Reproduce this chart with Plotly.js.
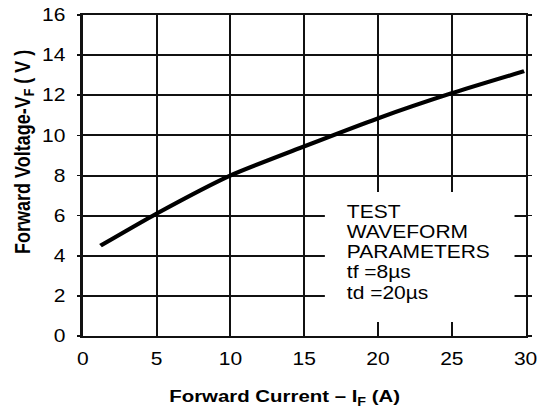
<!DOCTYPE html>
<html>
<head>
<meta charset="utf-8">
<script src="https://cdn.plot.ly/plotly-3.0.1.min.js"></script>
<style>
  html, body { margin: 0; padding: 0; overflow: hidden; background: #fff; }
  #chart { width: 455px; height: 407px; transform: scaleX(1.2); transform-origin: 0 0; }
</style>
</head>
<body>
<div id="chart"></div>
<script>
// Data
const forwardCurrent = [1.2, 5, 10, 15, 20, 25, 29.9];      // A
const forwardVoltage = [4.5, 6.1, 8.0, 9.45, 10.85, 12.1, 13.2]; // V
const xTicks = [0, 5, 10, 15, 20, 25, 30];
const yTicks = [0, 2, 4, 6, 8, 10, 12, 14, 16];
const noteLines = ["TEST", "WAVEFORM", "PARAMETERS", "tf =8µs", "td =20µs"];
const xTitle = "Forward Current – I<sub>F</sub> (A)";
const yTitle = "Forward Voltage-V<sub>F</sub> ( V )";

const font = "Liberation Sans, Arial, sans-serif";

const trace = {
  x: forwardCurrent,
  y: forwardVoltage,
  type: "scatter",
  mode: "lines",
  line: { color: "#000", width: 4, shape: "spline", smoothing: 0.6 },
  hoverinfo: "skip"
};

const annotations = [
  {
    text: yTitle, xref: "paper", yref: "paper", x: -0.133, y: 0.573,
    xanchor: "center", yanchor: "middle", textangle: -90, showarrow: false,
    font: { family: font, size: 18, color: "#000", weight: "bold" }
  },
  {
    text: xTitle, xref: "paper", yref: "paper", x: 0.455, y: -0.193,
    xanchor: "center", yanchor: "middle", showarrow: false,
    font: { family: font, size: 17, color: "#000", weight: "bold" }
  }
];
const noteY = [6.18, 5.18, 4.17, 3.17, 2.15];
noteLines.forEach((t, i) => {
  annotations.push({
    text: t, xref: "x", yref: "y", x: 17.7, y: noteY[i],
    xanchor: "left", yanchor: "middle", showarrow: false,
    font: { family: font, size: 17.5, color: "#000" }
  });
});

const layout = {
  width: 455,
  height: 407,
  margin: { l: 69.2, r: 16.7, t: 15, b: 71 },
  paper_bgcolor: "#fff",
  plot_bgcolor: "#fff",
  showlegend: false,
  font: { family: font, size: 17.5, color: "#000" },
  xaxis: {
    range: [0, 30],
    tickvals: xTicks,
    ticktext: xTicks.map(String),
    showgrid: true, gridcolor: "#111", gridwidth: 1.7,
    showline: true, linecolor: "#111", linewidth: 2, mirror: true,
    ticks: "", zeroline: false,
    ticklabelstandoff: 6,
    tickfont: { family: font, size: 17.5, color: "#000" }
  },
  yaxis: {
    range: [0, 16],
    tickvals: yTicks,
    ticktext: yTicks.map(String),
    showgrid: true, gridcolor: "#111", gridwidth: 2,
    showline: true, linecolor: "#111", linewidth: 2, mirror: "ticks",
    ticks: "outside", ticklen: 3, tickwidth: 1.7, tickcolor: "#111",
    zeroline: false,
    ticklabelstandoff: 6,
    tickfont: { family: font, size: 17.5, color: "#000" }
  },
  shapes: [
    {
      type: "rect", xref: "x", yref: "y", x0: 16.4, x1: 29.25, y0: 0.7, y1: 7.18,
      fillcolor: "#fff", line: { width: 0 }, layer: "above"
    }
  ],
  annotations: annotations
};

Plotly.newPlot("chart", [trace], layout, { displayModeBar: false, staticPlot: true });
</script>
</body>
</html>
